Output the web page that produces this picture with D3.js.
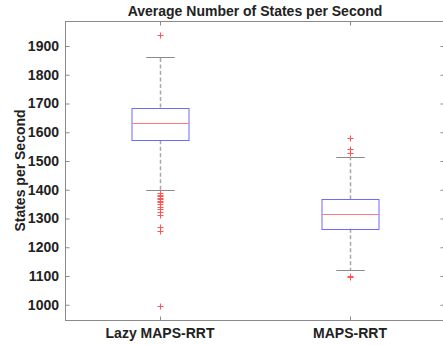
<!DOCTYPE html>
<html>
<head>
<meta charset="utf-8">
<script src="https://cdn.jsdelivr.net/npm/d3@7"></script>
<style>
  body { margin: 0; background: #fff; }
  text { font-family: "Liberation Sans", Arial, sans-serif; font-weight: bold; fill: #222; }
</style>
</head>
<body>
<div id="chart"></div>
<script>
const categories = ["Lazy MAPS-RRT", "MAPS-RRT"];
const lowerWhisker = [1399, 1121];
const q1 = [1572, 1264];
const median = [1631, 1316];
const q3 = [1686, 1367];
const upperWhisker = [1861, 1513];
const outliers = [
  [1940, 1389, 1382, 1377, 1372, 1367, 1362, 1357, 1350, 1341, 1332, 1322, 1311, 1270, 1258, 994],
  [1579, 1541, 1528, 1099, 1095]
];
const yTicks = [1000, 1100, 1200, 1300, 1400, 1500, 1600, 1700, 1800, 1900];

const width = 443, height = 345;
const margin = { top: 21, right: -2, bottom: 25, left: 65 };

const svg = d3.select("#chart").append("svg")
  .attr("width", width)
  .attr("height", height);

const x = d3.scaleLinear()
  .domain([0.5, 2.5])
  .range([margin.left, width - margin.right]);

const y = d3.scaleLinear()
  .domain([947, 1987])
  .range([height - margin.bottom, margin.top]);

const boxW = 57, capW = 28.5;
const axisColor = "#8a8a8a";

// frame
svg.append("rect")
  .attr("x", margin.left + 0.5)
  .attr("y", y(1987) + 0.5)
  .attr("width", x(2.5) - x(0.5))
  .attr("height", y(947) - y(1987))
  .attr("fill", "none")
  .attr("stroke", axisColor)
  .attr("stroke-width", 1);

// y ticks, left and right (inward)
const yAxisL = svg.append("g")
  .attr("transform", `translate(${margin.left + 0.5},0)`)
  .call(d3.axisRight(y).tickValues(yTicks).tickSize(4).tickFormat(""));
yAxisL.select(".domain").remove();
yAxisL.selectAll("line").attr("stroke", axisColor);

const yAxisR = svg.append("g")
  .attr("transform", `translate(${x(2.5) - 0.5},0)`)
  .call(d3.axisLeft(y).tickValues(yTicks).tickSize(4).tickFormat(""));
yAxisR.select(".domain").remove();
yAxisR.selectAll("line").attr("stroke", axisColor);

// y tick labels
svg.append("g").selectAll("text")
  .data(yTicks)
  .join("text")
  .attr("x", margin.left - 6)
  .attr("y", d => y(d))
  .attr("dy", "0.35em")
  .attr("text-anchor", "end")
  .attr("font-size", 14)
  .text(d => d);

// x ticks bottom and top
const xAxisB = svg.append("g")
  .attr("transform", `translate(0,${y(947) + 0.5})`)
  .call(d3.axisTop(x).tickValues([1, 2]).tickSize(4).tickFormat(""));
xAxisB.select(".domain").remove();
xAxisB.selectAll("line").attr("stroke", axisColor);

const xAxisT = svg.append("g")
  .attr("transform", `translate(0,${y(1987) + 0.5})`)
  .call(d3.axisBottom(x).tickValues([1, 2]).tickSize(4).tickFormat(""));
xAxisT.select(".domain").remove();
xAxisT.selectAll("line").attr("stroke", axisColor);

svg.append("g").selectAll("text")
  .data(categories)
  .join("text")
  .attr("x", (d, i) => x(i + 1))
  .attr("y", 338)
  .attr("text-anchor", "middle")
  .attr("font-size", 14)
  .text(d => d);

// title + y label
svg.append("text")
  .attr("x", (x(0.5) + x(2.5)) / 2)
  .attr("y", 16)
  .attr("text-anchor", "middle")
  .attr("font-size", 14)
  .attr("fill", "#111")
  .text("Average Number of States per Second");

svg.append("text")
  .attr("transform", `translate(25,${(y(947) + y(1987)) / 2}) rotate(-90)`)
  .attr("text-anchor", "middle")
  .attr("font-size", 14)
  .text("States per Second");

// boxes
const g = svg.append("g");
categories.forEach((c, i) => {
  const cx = Math.round(x(i + 1)) + 0.5;
  // whiskers
  g.append("line")
    .attr("x1", cx).attr("x2", cx)
    .attr("y1", y(q3[i])).attr("y2", y(upperWhisker[i]))
    .attr("stroke", "#a8a8a8").attr("stroke-width", 1.5).attr("stroke-dasharray", "4,2.5");
  g.append("line")
    .attr("x1", cx).attr("x2", cx)
    .attr("y1", y(q1[i])).attr("y2", y(lowerWhisker[i]))
    .attr("stroke", "#a8a8a8").attr("stroke-width", 1.5).attr("stroke-dasharray", "4,2.5");
  [upperWhisker[i], lowerWhisker[i]].forEach(v => {
    g.append("line")
      .attr("x1", cx - capW / 2).attr("x2", cx + capW / 2)
      .attr("y1", Math.round(y(v)) + 0.5).attr("y2", Math.round(y(v)) + 0.5)
      .attr("stroke", "#8a8a8a").attr("stroke-width", 1);
  });
  // box
  g.append("rect")
    .attr("x", cx - boxW / 2)
    .attr("y", Math.round(y(q3[i])) + 0.5)
    .attr("width", boxW)
    .attr("height", Math.round(y(q1[i])) - Math.round(y(q3[i])))
    .attr("fill", "none")
    .attr("stroke", "#6b6bff")
    .attr("stroke-width", 1);
  g.append("line")
    .attr("x1", cx - boxW / 2).attr("x2", cx + boxW / 2)
    .attr("y1", Math.round(y(median[i])) + 0.5).attr("y2", Math.round(y(median[i])) + 0.5)
    .attr("stroke", "#ff7b7b").attr("stroke-width", 1);
  // outliers
  g.append("g").selectAll("path")
    .data(outliers[i])
    .join("path")
    .attr("d", d => {
      const py = Math.round(y(d)) + 0.5;
      return `M${cx - 3},${py}H${cx + 3}M${cx},${py - 3}V${py + 3}`;
    })
    .attr("stroke", "#ff5555")
    .attr("stroke-width", 1)
    .attr("fill", "none");
});
</script>
</body>
</html>
